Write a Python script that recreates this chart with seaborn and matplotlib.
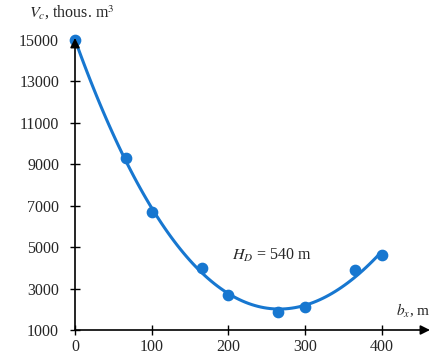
import pandas as pd
import seaborn as sns
import matplotlib.pyplot as plt

# distance b_x (m) vs volume V_c (thous. m3), H_D = 540 m
bx = [0, 66, 100, 166, 200, 265, 300, 365, 400]
vc = [15000, 9300, 6700, 4000, 2700, 1850, 2100, 3900, 4600]
x_ticks = [0, 100, 200, 300, 400]
y_ticks = [1000, 3000, 5000, 7000, 9000, 11000, 13000, 15000]

df = pd.DataFrame({'bx': bx, 'vc': vc})

sns.set_style('white')
plt.rcParams['font.family'] = ['Liberation Serif', 'DejaVu Serif']
plt.rcParams['mathtext.fontset'] = 'stix'

blue = '#1777d0'

fig = plt.figure(figsize=(4.32, 3.56), dpi=100)
ax = fig.add_axes([75 / 432, 26 / 356, 355 / 432, 292 / 356])

sns.regplot(data=df, x='bx', y='vc', order=3, ci=None, ax=ax, color=blue,
            scatter_kws={'s': 55, 'clip_on': False, 'zorder': 3, 'alpha': 1},
            line_kws={'lw': 2.2, 'clip_on': False})

ax.set_xlim(0, 463)
ax.set_ylim(1000, 15100)
ax.set_xticks(x_ticks)
ax.set_yticks(y_ticks)
ax.set_xlabel('')
ax.set_ylabel('')
ax.tick_params(direction='inout', length=7, width=1, color='black',
               labelsize=11.5, bottom=True, left=True)
ax.tick_params(axis='y', pad=8)
ax.tick_params(axis='x', pad=3)
sns.despine(ax=ax)
for side in ['left', 'bottom']:
    ax.spines[side].set_visible(False)

# axes drawn as arrows
ax.annotate('', xy=(1.0, 0), xytext=(0, 0), xycoords='axes fraction',
            arrowprops=dict(arrowstyle='-|>', color='black', lw=1.2,
                            mutation_scale=14, shrinkA=0, shrinkB=0))
ax.annotate('', xy=(0, 1.0), xytext=(0, 0), xycoords='axes fraction',
            arrowprops=dict(arrowstyle='-|>', color='black', lw=1.2,
                            mutation_scale=14, shrinkA=0, shrinkB=0))

ax.text(-0.13, 1.055, r'$V_c$, thous. m$^3$', transform=ax.transAxes,
        fontsize=11.5, ha='left', va='bottom')
ax.text(0.905, 0.035, r'$b_x$, m', transform=ax.transAxes,
        fontsize=11, ha='left', va='bottom')
ax.text(205, 4600, r'$H_D$ = 540 m', fontsize=11.5, ha='left', va='center')

plt.savefig('out.png', dpi=100)
